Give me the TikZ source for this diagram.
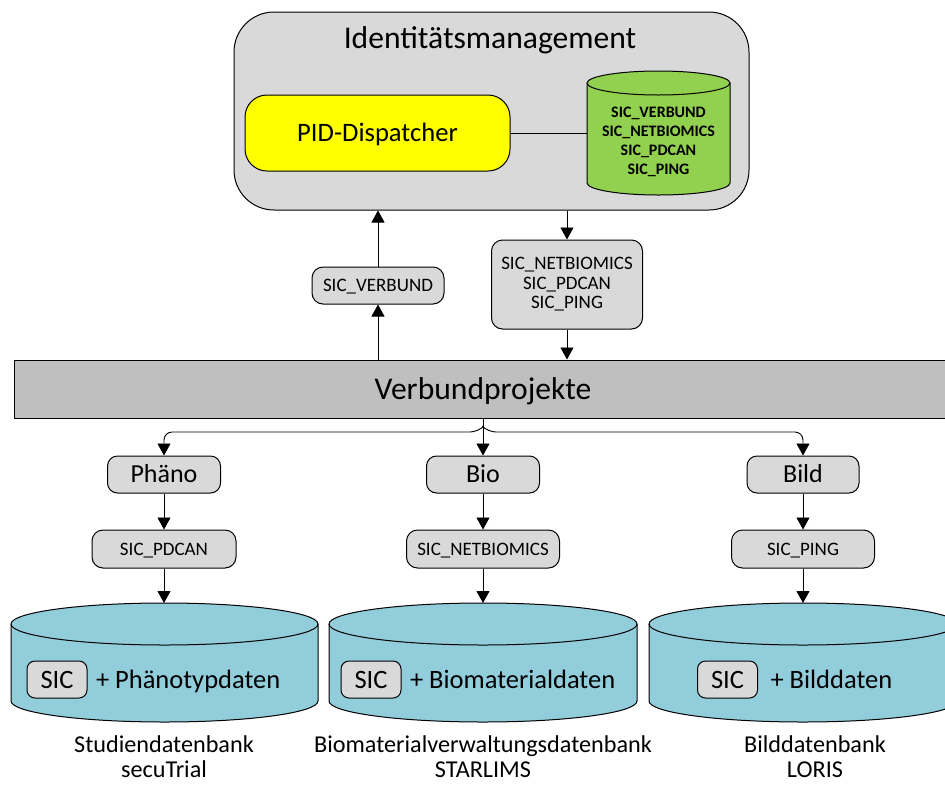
\documentclass[tikz,border=0pt]{standalone}
\usepackage{fontspec}
\setmainfont{Carlito}
\usetikzlibrary{arrows.meta,positioning}
\definecolor{idgray}{HTML}{D9D9D9}
\definecolor{vpgray}{HTML}{BFBFBF}
\definecolor{pidyellow}{HTML}{FFFF00}
\definecolor{sicgreen}{HTML}{92D050}
\definecolor{dbblue}{HTML}{92CDDC}

\begin{document}
\begin{tikzpicture}[%
    x=1pt, y=-1pt,                        % Coordinates in pixels, y going down
    >={Triangle[length=12pt,width=13pt]}, % Filled arrow heads
    line width=1pt,
    ]
% -------------------------------------------------
% Box styles
\tikzset{
  base/.style={draw, align=center, inner sep=0pt},
  capfit/.style={text height=#1, text depth=0pt}, % centre the capitals
  area/.style={base, rounded corners=40pt, fill=idgray},
  big/.style={font=\fontsize{31.6}{38}\selectfont},
  pidbox/.style={base, capfit=17pt, rounded corners=22pt, fill=pidyellow, font=\fontsize{26.6}{32}\selectfont},
  sicbox/.style={base, rounded corners=11pt, fill=idgray, font=\fontsize{19}{19.5}\selectfont},
  tagbox/.style={base, capfit=16.6pt, rounded corners=10pt, fill=idgray, font=\fontsize{26}{32}\selectfont},
  dbsic/.style={base, capfit=17pt, rounded corners=8pt, fill=idgray, minimum width=60pt, minimum height=37pt, font=\fontsize{26.5}{32}\selectfont},
  dbtext/.style={capfit=17pt, inner sep=0pt, font=\fontsize{26.5}{32}\selectfont},
  dblabel/.style={align=center, inner sep=0pt, text depth=0pt, font=\fontsize{24.2}{25.5}\selectfont},
  % Connector line style
  norm/.style={->, draw, line width=0.9pt},
}
\useasboundingbox (0,0) rectangle (945,785);
% -------------------------------------------------
% Identity management on top
\node [area, minimum width=515pt, minimum height=198pt] (idm) at (491.5,111) {};
\node [big, anchor=base] (idmtitle) at (490,48) {Identitätsmanagement};
\node [pidbox, minimum width=265pt, minimum height=76pt] (pid) at (377.5,133) {PID-Dispatcher};

% green key store
\draw [fill=sicgreen] (587,83) -- (587,183)
  arc [start angle=180, end angle=360, x radius=71.5pt, y radius=12pt] -- (730,83)
  arc [start angle=0, end angle=180, x radius=71.5pt, y radius=12pt] -- cycle;
\draw (730,83) arc [start angle=0, end angle=-180, x radius=71.5pt, y radius=12pt];
\node [align=center, inner sep=0pt, font=\fontsize{16}{19}\selectfont\bfseries] (sics) at (658.5,142)
  {SIC\_VERBUND\\SIC\_NETBIOMICS\\SIC\_PDCAN\\SIC\_PING};
\coordinate (storeleft) at (587,133);
\draw (pid.east) -- (storeleft);

% -------------------------------------------------
% Exchange between the layers
\node [sicbox, capfit=12.2pt, minimum width=132pt, minimum height=37pt] (sicv) at (378,285.5) {SIC\_VERBUND};
\node [sicbox, minimum width=151pt, minimum height=89pt] (sicr) at (567,284.5)
  {SIC\_NETBIOMICS\\SIC\_PDCAN\\SIC\_PING};
\node [base, capfit=20.2pt, big, fill=vpgray, minimum width=938pt, minimum height=58pt] (vp) at (483,389) {Verbundprojekte};

\draw [norm] (vp.north -| sicv) -- (sicv.south);
\draw [norm] (sicv.north) -- (sicv.north |- idm.south);
\draw [norm] (sicr.north |- idm.south) -- (sicr.north);
\draw [norm] (sicr.south) -- (sicr.south |- vp.north);

% -------------------------------------------------
% Project branches
\node [tagbox, minimum width=113pt, minimum height=37pt] (pha) at (164,474.5) {Phäno};
\node [tagbox, minimum width=113pt, minimum height=37pt] (bio) at (483,474.5) {Bio};
\node [tagbox, minimum width=112pt, minimum height=37pt] (bld) at (803,474.5) {Bild};

\node [sicbox, capfit=12.2pt, minimum width=144pt, minimum height=38pt, below=36pt of pha] (sicpd) {SIC\_PDCAN};
\node [sicbox, capfit=12.2pt, minimum width=153pt, minimum height=38pt, below=36pt of bio] (sicnb) {SIC\_NETBIOMICS};
\node [sicbox, capfit=12.2pt, minimum width=143pt, minimum height=38pt, below=36pt of bld] (sicpi) {SIC\_PING};

\coordinate (fork) at (483,427);
\draw [norm] (vp.south) -- (bio.north);
\draw [norm, rounded corners=8pt] (fork) -- (478,432) -| (pha.north);
\draw [norm, rounded corners=8pt] (fork) -- (488,432) -| (bld.north);
\draw [norm] (pha.south) -- (sicpd.north);
\draw [norm] (bio.south) -- (sicnb.north);
\draw [norm] (bld.south) -- (sicpi.north);

% -------------------------------------------------
% Data bases
\foreach \l/\r/\n in {11/318/1, 329/637/2, 649/957/3}{
  \draw [fill=dbblue] (\l,624) -- (\l,701)
    arc [start angle=180, end angle=360, x radius={(\r-\l)*0.5pt}, y radius=21pt] -- (\r,624)
    arc [start angle=0, end angle=180, x radius={(\r-\l)*0.5pt}, y radius=21pt] -- cycle;
  \draw (\r,624) arc [start angle=0, end angle=-180, x radius={(\r-\l)*0.5pt}, y radius=21pt];
  \coordinate (db\n) at ({(\l+\r)/2},603);
}
\draw [norm] (sicpd.south) -- (sicpd.south |- db1);
\draw [norm] (sicnb.south) -- (sicnb.south |- db2);
\draw [norm] (sicpi.south) -- (sicpi.south |- db3);

\node [dbsic] (sic1) at (57,679.5) {SIC};
\node [dbtext, right=8pt of sic1] (txt1) {+ Phänotypdaten};
\node [dbsic] (sic2) at (371,679.5) {SIC};
\node [dbtext, right=8pt of sic2] (txt2) {+ Biomaterialdaten};
\node [dbsic] (sic3) at (727.5,679.5) {SIC};
\node [dbtext, right=12pt of sic3] (txt3) {+ Bilddaten};

\node [dblabel, anchor=north] (lab1) at (164,735) {Studiendatenbank\\secuTrial};
\node [dblabel, anchor=north] (lab2) at (483,735) {Biomaterialverwaltungsdatenbank\\STARLIMS};
\node [dblabel, anchor=north] (lab3) at (815,735) {Bilddatenbank\\LORIS};
% -------------------------------------------------
\end{tikzpicture}
\end{document}
